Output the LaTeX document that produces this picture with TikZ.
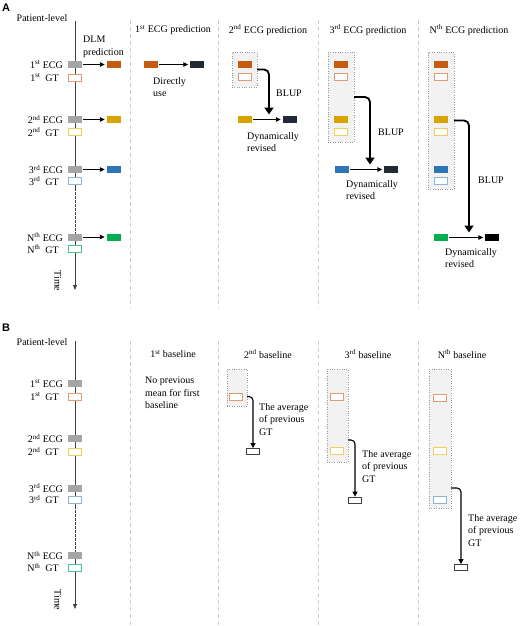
\documentclass[tikz,border=0pt]{standalone}
\usepackage{fontspec}
\setmainfont{Liberation Serif}
\setsansfont{Liberation Sans}
\usetikzlibrary{arrows.meta}

\definecolor{ecggray}{HTML}{A6A6A6}
\definecolor{orfill}{HTML}{C55A11}
\definecolor{orline}{HTML}{E39A70}
\definecolor{gdfill}{HTML}{DAA400}
\definecolor{gdline}{HTML}{EFCF5E}
\definecolor{blfill}{HTML}{2E75B6}
\definecolor{blline}{HTML}{8FB4DA}
\definecolor{gnfill}{HTML}{00B050}
\definecolor{gnline}{HTML}{4CC08A}
\definecolor{navy}{HTML}{222A35}

\tikzset{
	ecgbox/.style={fill=ecggray, minimum width=14pt, minimum height=7pt, inner sep=0pt},
	gtbox/.style={draw=#1, fill=white, line width=0.9pt, minimum width=13pt, minimum height=7pt, inner sep=0pt},
	predbox/.style={fill=#1, minimum width=14pt, minimum height=7pt, inner sep=0pt},
	basebox/.style={draw=black!75, fill=white, line width=0.8pt, minimum width=13pt, minimum height=6pt, inner sep=0pt},
	histbox/.style={draw=black!40, dotted, fill=black!5, inner sep=0pt},
	txt/.style={inner sep=0pt, align=left, font=\fontsize{10}{12.5}\selectfont},
	colsep/.style={draw=black!20, dash pattern=on 4pt off 3pt, line width=0.7pt},
	timeline/.style={draw=black!75, line width=0.9pt},
	thinarr/.style={-{Triangle[width=4.5pt,length=5pt]}, line width=0.9pt, shorten <=1pt, shorten >=1.5pt},
	blup/.style={-{Triangle[width=9pt,length=7pt]}, line width=1.8pt, rounded corners=5pt},
	avgarr/.style={-{Triangle[width=5pt,length=5pt]}, line width=1.1pt, rounded corners=4pt},
	panel/.style={font=\sffamily\bfseries\fontsize{11}{13}\selectfont, inner sep=0pt}
}

\begin{document}
\begin{tikzpicture}[x=1pt,y=1pt,yscale=-1,xscale=1]
	\useasboundingbox (0,0) rectangle (520,626);
	
	%%%%%%%%%%%%%%%% Panel A
	% Column separators
	\draw[colsep] (130,20) -- (130,308);
	\draw[colsep] (218,20) -- (218,308);
	\draw[colsep] (318,20) -- (318,308);
	\draw[colsep] (418,20) -- (418,308);
	
	% Time line
	\coordinate (atop) at (75,21);
	\coordinate (adash) at (75,188);
	\coordinate (adashend) at (75,233);
	\coordinate (aend) at (75,290);
	\draw[timeline] (atop) -- (adash);
	\draw[timeline, dash pattern=on 2.5pt off 1.5pt] (adash) -- (adashend);
	\draw[timeline, -{Triangle[width=4pt,length=5pt]}] (adashend) -- (aend);
	
	\node[panel] (labA) at (6,8) {A};
	\node[txt] (plA) at (42,18) {Patient-level};
	\node[txt, rotate=-90] (atime) at (58,281) {Time};
	
	% ECGs and GTs
	\node[ecgbox] (a1ecg) at (75,64.5) {};
	\node[gtbox=orline] (a1gt) at (75,77.5) {};
	\node[ecgbox] (a2ecg) at (75,119.5) {};
	\node[gtbox=gdline] (a2gt) at (75,132) {};
	\node[ecgbox] (a3ecg) at (75,169.5) {};
	\node[gtbox=blline] (a3gt) at (75,181) {};
	\node[ecgbox] (aNecg) at (75,237) {};
	\node[gtbox=gnline] (aNgt) at (75,249) {};
	
	\node[txt, anchor=east] (a1ecgl) at (63,64.5) {1\textsuperscript{st} ECG};
	\node[txt, anchor=east] (a1gtl) at (59,77.5) {1\textsuperscript{st}\hspace{5pt}GT};
	\node[txt, anchor=east] (a2ecgl) at (63,119.5) {2\textsuperscript{nd} ECG};
	\node[txt, anchor=east] (a2gtl) at (59,132) {2\textsuperscript{nd}\hspace{5pt}GT};
	\node[txt, anchor=east] (a3ecgl) at (63,169.5) {3\textsuperscript{rd} ECG};
	\node[txt, anchor=east] (a3gtl) at (59,181) {3\textsuperscript{rd}\hspace{5pt}GT};
	\node[txt, anchor=east] (aNecgl) at (63,237) {N\textsuperscript{th} ECG};
	\node[txt, anchor=east] (aNgtl) at (59,249) {N\textsuperscript{th}\hspace{5pt}GT};
	
	% DLM predictions
	\node[txt, anchor=north west] (dlm) at (83,36) {DLM\\prediction};
	\node[predbox=orfill] (a1pred) at (113.5,64.5) {};
	\node[predbox=gdfill] (a2pred) at (113.5,119.5) {};
	\node[predbox=blfill] (a3pred) at (113.5,169.5) {};
	\node[predbox=gnfill] (aNpred) at (113.5,237) {};
	\draw[thinarr] (a1ecg) -- (a1pred);
	\draw[thinarr] (a2ecg) -- (a2pred);
	\draw[thinarr] (a3ecg) -- (a3pred);
	\draw[thinarr] (aNecg) -- (aNpred);
	
	% Headers
	\node[txt] (h1) at (173,30) {1\textsuperscript{st} ECG prediction};
	\node[txt] (h2) at (268,30) {2\textsuperscript{nd} ECG prediction};
	\node[txt] (h3) at (368,30) {3\textsuperscript{rd} ECG prediction};
	\node[txt] (h4) at (469,30) {N\textsuperscript{th} ECG prediction};
	
	% 1st ECG prediction
	\node[predbox=orfill] (c1in) at (151,64.5) {};
	\node[predbox=navy] (c1out) at (197,64.5) {};
	\draw[thinarr] (c1in) -- (c1out);
	\node[txt, anchor=north west] (c1txt) at (153,77) {Directly\\use};
	
	% 2nd ECG prediction
	\node[histbox, minimum width=25pt, minimum height=35pt] (c2bg) at (244.5,69.5) {};
	\node[predbox=orfill] (c2o) at (245,64.5) {};
	\node[gtbox=orline] (c2og) at (245,77) {};
	\node[predbox=gdfill] (c2y) at (245,119.5) {};
	\node[predbox=navy] (c2d) at (289.5,119.5) {};
	\draw[thinarr] (c2y) -- (c2d);
	\coordinate (m2) at (269,119.5);
	\draw[blup, shorten >=5pt] (c2bg.east) -| (m2);
	\node[txt] (c2blup) at (289,93) {BLUP};
	\node[txt, anchor=north west] (c2txt) at (247,132) {Dynamically\\revised};
	
	% 3rd ECG prediction
	\node[histbox, minimum width=26pt, minimum height=90pt] (c3bg) at (341,97) {};
	\node[predbox=orfill] (c3o) at (341,64.5) {};
	\node[gtbox=orline] (c3og) at (341,77) {};
	\node[predbox=gdfill] (c3y) at (341,119.5) {};
	\node[gtbox=gdline] (c3yg) at (341,132) {};
	\node[predbox=blfill] (c3b) at (342,169.5) {};
	\node[predbox=navy] (c3d) at (391,169.5) {};
	\draw[thinarr] (c3b) -- (c3d);
	\coordinate (m3) at (370,169.5);
	\draw[blup, shorten >=5pt] (c3bg.east) -| (m3);
	\node[txt] (c3blup) at (391,132) {BLUP};
	\node[txt, anchor=north west] (c3txt) at (346,180) {Dynamically\\revised};
	
	% Nth ECG prediction
	\node[histbox, minimum width=26pt, minimum height=137pt] (c4bg) at (441,120.5) {};
	\node[predbox=orfill] (c4o) at (441,64.5) {};
	\node[gtbox=orline] (c4og) at (441,77) {};
	\node[predbox=gdfill] (c4y) at (441,119.5) {};
	\node[gtbox=gdline] (c4yg) at (441,132) {};
	\node[predbox=blfill] (c4bl) at (441,169.5) {};
	\node[gtbox=blline] (c4blg) at (441,181) {};
	\node[predbox=gnfill] (c4g) at (441,237.5) {};
	\node[predbox=black] (c4k) at (492,237.5) {};
	\draw[thinarr] (c4g) -- (c4k);
	\coordinate (m4) at (469,237.5);
	\draw[blup, shorten >=5pt] (c4bg.east) -| (m4);
	\node[txt] (c4blup) at (491,180) {BLUP};
	\node[txt, anchor=north west] (c4txt) at (445,248) {Dynamically\\revised};
	
	%%%%%%%%%%%%%%%% Panel B
	% Column separators
	\draw[colsep] (130,341) -- (130,625);
	\draw[colsep] (218,341) -- (218,625);
	\draw[colsep] (318,341) -- (318,625);
	\draw[colsep] (418,341) -- (418,625);
	
	% Time line
	\coordinate (btop) at (75,341);
	\coordinate (bdash) at (75,506);
	\coordinate (bdashend) at (75,552);
	\coordinate (bend) at (75,609);
	\draw[timeline] (btop) -- (bdash);
	\draw[timeline, dash pattern=on 2.5pt off 1.5pt] (bdash) -- (bdashend);
	\draw[timeline, -{Triangle[width=4pt,length=5pt]}] (bdashend) -- (bend);
	
	\node[panel] (labB) at (6,328) {B};
	\node[txt] (plB) at (42,342) {Patient-level};
	\node[txt, rotate=-90] (btime) at (58,600) {Time};
	
	% ECGs and GTs
	\node[ecgbox] (b1ecg) at (75,383.5) {};
	\node[gtbox=orline] (b1gt) at (75,396.5) {};
	\node[ecgbox] (b2ecg) at (75,438.5) {};
	\node[gtbox=gdline] (b2gt) at (75,451.5) {};
	\node[ecgbox] (b3ecg) at (75,488) {};
	\node[gtbox=blline] (b3gt) at (75,499.5) {};
	\node[ecgbox] (bNecg) at (75,555.5) {};
	\node[gtbox=gnline] (bNgt) at (75,567.5) {};
	
	\node[txt, anchor=east] (b1ecgl) at (63,383.5) {1\textsuperscript{st} ECG};
	\node[txt, anchor=east] (b1gtl) at (59,396.5) {1\textsuperscript{st}\hspace{5pt}GT};
	\node[txt, anchor=east] (b2ecgl) at (63,438.5) {2\textsuperscript{nd} ECG};
	\node[txt, anchor=east] (b2gtl) at (59,451.5) {2\textsuperscript{nd}\hspace{5pt}GT};
	\node[txt, anchor=east] (b3ecgl) at (63,488) {3\textsuperscript{rd} ECG};
	\node[txt, anchor=east] (b3gtl) at (59,499.5) {3\textsuperscript{rd}\hspace{5pt}GT};
	\node[txt, anchor=east] (bNecgl) at (63,555.5) {N\textsuperscript{th} ECG};
	\node[txt, anchor=east] (bNgtl) at (59,567.5) {N\textsuperscript{th}\hspace{5pt}GT};
	
	% Headers
	\node[txt] (g1) at (173,354) {1\textsuperscript{st} baseline};
	\node[txt] (g2) at (268,354) {2\textsuperscript{nd} baseline};
	\node[txt] (g3) at (368,354) {3\textsuperscript{rd} baseline};
	\node[txt] (g4) at (462,354) {N\textsuperscript{th} baseline};
	
	% 1st baseline
	\node[txt, anchor=north west] (b1txt) at (145,377) {No previous\\mean for first\\baseline};
	
	% 2nd baseline
	\node[histbox, minimum width=20pt, minimum height=37pt] (b2bg) at (237,387.5) {};
	\node[gtbox=orline] (b2o) at (236,396.5) {};
	\node[basebox] (b2r) at (253,451.5) {};
	\draw[avgarr] (b2bg.east |- b2o) -| (b2r.north);
	\node[txt, anchor=north west] (b2txt) at (259,403) {The average\\of previous\\GT};
	
	% 3rd baseline
	\node[histbox, minimum width=21pt, minimum height=93pt] (b3bg) at (337.5,415.5) {};
	\node[gtbox=orline] (b3o) at (337,396.5) {};
	\node[gtbox=gdline] (b3y) at (337,451) {};
	\node[basebox] (b3r) at (355,500) {};
	\coordinate (b3s) at (348,440);
	\draw[avgarr] (b3s) -| (b3r.north);
	\node[txt, anchor=north west] (b3txt) at (362,450) {The average\\of previous\\GT};
	
	% Nth baseline
	\node[histbox, minimum width=22pt, minimum height=139pt] (b4bg) at (440,438.5) {};
	\node[gtbox=orline] (b4o) at (440,397.5) {};
	\node[gtbox=gdline] (b4y) at (440,451) {};
	\node[gtbox=blline] (b4b) at (440,499.5) {};
	\node[basebox] (b4r) at (461,567.5) {};
	\coordinate (b4s) at (451,488);
	\draw[avgarr] (b4s) -| (b4r.north);
	\node[txt, anchor=north west] (b4txt) at (468,514) {The average\\of previous\\GT};
\end{tikzpicture}
\end{document}
